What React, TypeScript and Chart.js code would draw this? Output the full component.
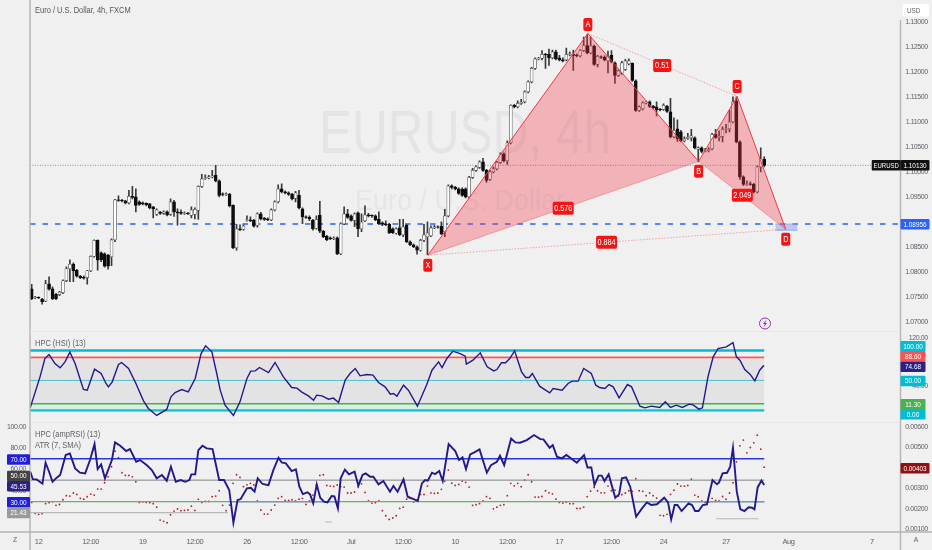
import React, { useEffect, useRef } from "react";
import { Chart, registerables } from "chart.js";

Chart.register(...registerables);

// ---------- data ----------
// Candles, one per 4h bar, in pips above 1.0000
const opens = [
  766,748,749,745,741,776,766,755,754,758, 782,806,815,803,791,789,788,802,831,863,
  838,836,833,830,864,944,943,942,938,951, 950,940,938,937,936,930,915,919,917,920,
  915,940,920,919,917,917,913,915,923,971, 987,988,990,993,982,956,955,955,933,848,
  886,885,903,904,903,893,916,907,906,904, 924,940,966,960,958,955,947,953,926,910,
  909,903,887,913,881,871,868,866,868,836, 896,916,912,903,918,886,902,914,913,912,
  905,898,896,895,886,877,888,874,893,860, 854,850,843,863,870,872,888,890,891,880,
  912,972,969,966,965,966,950,989,1003,1009, 1020,1003,985,1000,1006,1019,1036,1022,1058,1133,
  1130,1137,1140,1160,1180,1207,1226,1227,1235,1235, 1228,1240,1228,1224,1224,1235,1235,1233,1232,1243,
  1253,1238,1252,1215,1230,1229,1222,1233,1218,1193, 1197,1205,1216,1217,1182,1123,1126,1138,1140,1131,
  1130,1125,1125,1131,1120,1070,1086,1080,1062,1067, 1068,1068,1045,1048,1041,1042,1046,1075,1069,1071,
  1085,1086,1100,1142,1060,990,975,976,975,960, 1010,1025,
];
const closes = [
  746,749,748,740,776,765,746,746,759,782, 806,815,802,791,788,787,802,831,863,823,
  824,811,811,864,944,943,942,938,951,949, 933,935,936,934,928,926,924,917,920,914,
  940,920,918,917,918,916,924,925,971,986, 988,990,992,982,953,955,956,932,848,886,
  884,892,904,902,891,916,906,905,904,924, 940,966,960,958,955,946,958,928,910,909,
  906,886,905,881,870,864,866,867,836,896, 916,909,903,916,886,900,914,912,912,904,
  896,895,894,878,878,886,874,890,860,854, 850,843,863,874,878,888,890,889,876,912,
  972,969,966,957,953,950,989,1003,1010,1020, 1003,983,1000,1006,1019,1036,1022,1058,1133,1130,
  1137,1139,1160,1180,1207,1226,1227,1235,1234,1228, 1240,1226,1224,1222,1235,1236,1233,1232,1243,1253,
  1238,1252,1215,1231,1229,1224,1231,1220,1193,1202, 1218,1222,1222,1183,1123,1130,1138,1139,1131,1128,
  1124,1124,1133,1121,1070,1083,1066,1062,1066,1069, 1072,1048,1048,1041,1042,1045,1075,1069,1071,1085,
  1086,1100,1140,1060,990,975,976,975,960,1010, 1026,1013,
];
const highs = [
  775,751,750,747,783,790,770,757,761,784, 810,824,818,805,793,792,803,832,864,864,
  840,838,835,866,945,952,945,943,963,971, 966,942,940,938,937,931,926,921,922,922,
  946,943,926,924,920,919,930,928,972,995, 994,993,1003,1013,984,958,958,957,934,895,
  894,894,912,910,905,918,919,909,908,926, 942,974,976,962,960,957,961,963,928,912,
  912,905,912,941,883,873,870,870,870,898, 930,925,914,918,920,916,932,917,914,914,
  920,900,902,897,888,888,905,905,895,862, 856,852,865,895,900,892,893,892,900,925,
  974,974,971,968,968,968,991,1007,1012,1022, 1027,1005,1003,1010,1021,1038,1038,1062,1134,1135,
  1142,1145,1162,1182,1209,1228,1229,1243,1237,1246, 1244,1244,1233,1228,1248,1240,1244,1236,1245,1270,
  1275,1270,1254,1233,1232,1232,1242,1243,1220,1204, 1221,1225,1226,1218,1184,1132,1140,1141,1142,1133,
  1140,1127,1136,1133,1147,1108,1104,1083,1070,1077, 1085,1070,1050,1050,1047,1048,1077,1085,1082,1090,
  1095,1123,1150,1150,1062,992,982,980,977,1012, 1048,1030,
];
const lows = [
  744,746,746,735,740,763,744,744,752,756, 780,780,780,789,786,785,775,800,829,803,
  820,809,805,812,860,941,940,936,936,946, 920,933,934,932,926,908,913,915,915,912,
  913,911,893,915,915,915,908,906,905,969, 985,986,988,980,950,952,953,930,846,843,
  882,883,901,900,889,889,904,903,902,902, 922,938,958,956,953,944,940,926,896,907,
  902,883,885,878,868,862,864,864,834,834, 894,907,901,890,870,880,900,910,909,902,
  894,892,892,876,876,875,872,870,858,852, 848,835,841,860,834,870,886,887,874,870,
  910,966,964,955,951,948,948,987,1001,1007, 1001,979,983,998,1004,1017,1020,1015,1056,1128,
  1128,1135,1138,1158,1178,1205,1224,1224,1207,1213, 1226,1224,1222,1220,1222,1232,1203,1230,1230,1241,
  1236,1236,1213,1210,1227,1222,1198,1218,1177,1191, 1195,1203,1214,1181,1121,1121,1124,1136,1129,1126,
  1112,1122,1123,1119,1068,1068,1061,1060,1060,1065, 1062,1046,1020,1038,1040,1040,1044,1067,1062,1060,
  1078,1080,1098,1058,985,973,973,973,958,958, 1000,1010,
];

// Harmonic pattern pivots X, A, B, C, D
const pivotBars = [114.1, 160.2, 192.1, 203.2, 217.2];
const pivotPrices = [1.0833, 1.1277, 1.1021, 1.1151, 1.0885];
const priceLevel = 1.1013;
const supportLevel = 1.08956;
const przBars = [214.2, 220.6];
const przPrices = [1.08956, 1.0883];

// HSI line
const hsiBars = [
  -0.4,2.4,3.8,5,6.7,8.2,9.6,11,12.5,14.9,16,18.1,20,21.4,22.1,23.2,25,25.9,27.9,29.8,
  32.2,33.6,36,38.9,40.1,41.3,43.2,45.1,47.1,48.8,50.1,51.9,53.3,54.3,55.7,58.1,60,62,63.1,64.4,
  65.6,68.2,70.1,72.5,74.9,76.4,77.8,79.7,81.2,82.1,83.6,85.5,86.9,88.4,90.3,91.7,93.2,94.6,96.5,98.3,
  99.9,101.8,103.3,104.2,105.2,107.1,108.5,111.1,113.8,115.3,117.2,118.2,119.6,121.3,123.4,124.9,125.2,127.1,129.2,131.2,
  133.1,134,135.3,136.5,137.7,139.1,141.1,142.3,143.3,144.2,146.3,149.2,150.2,152.8,154.5,155.7,157.4,159,161.2,162.5,
  163.6,165.1,166.3,167.5,169.2,171.6,172.8,175.2,176.6,178.5,180.9,182.5,184,185.7,187.4,189.4,190.5,192.2,193.2,194.8,
  196.3,197.7,200.1,202,203,204,205.4,206.9,208.3,209.7,210.7,211,
];
const hsiValues = [
  4.9,56,86.6,93.2,78.2,71,81,97.1,78.2,34.9,33.8,68.8,61.6,44.9,39.3,47.7,76.6,79.9,69.9,47.7,
  16,3.2,-8.4,1.6,22.7,29.9,34.9,31,53.2,94.9,107.7,97.7,61.6,33.8,8.8,-8.4,14.3,53.2,65.5,66,
  71.6,63.2,79.9,56,38.2,37.1,30.5,24.3,17.1,25.5,24.3,18.8,20.5,13.2,50.5,61.6,69.9,57.7,59.9,58.8,
  46.6,39.3,27.1,28.2,23.8,42.1,33.8,7.1,43.2,67.1,81,71.6,86.6,98.8,94.9,90.5,77.1,83.8,96,72.7,
  66,68.2,79.4,79.4,86.6,99.4,64.4,54.9,54.9,61.6,40.5,29.3,36.6,33.8,44.9,48.8,48.8,69.9,61.6,42.1,
  38.2,36.6,43.2,39.3,21,43.2,39.3,7.1,4.3,7.1,4.9,14.3,4.9,8.8,4.9,10.5,9.3,2.1,4.3,56,
  89.4,103.2,106,113.2,89.4,83.8,68.2,60.5,49.3,67.1,73.8,74.68,
];

// ampRSI line
const rsiBars = [
  -0.4,0.3,1.4,3.1,4,5,6,7.2,8.2,9.8,11,12.5,13.9,15.4,16.8,18.1,19,20,21.1,23.1,
  24,25.5,27.2,28.3,30.1,31.2,33.1,34.6,36,37.5,38.9,40.1,41.5,42.9,44.2,45.4,46,47.1,48,49.2,
  50.4,52.1,54,55.4,56.9,58.1,59.3,60.2,62,63.1,64.2,65.1,66.5,68.2,69.6,71.1,72,73.2,74.9,76.1,
  77.1,78.1,79.4,80.2,81.1,82.1,83.1,84.2,85.2,86.4,87.2,88.2,89,90.2,91.4,93,94.1,95.3,96.2,97.5,
  98.4,99.9,101.3,103.2,104.2,105.4,107.1,108.3,110,111.2,112.4,113.3,114.1,115.3,116.2,117.4,118.4,120.1,122,123.1,
  124.1,125.1,126.3,127.5,129,131.1,132.3,134,134.9,136.1,138.1,139.3,140.7,142.6,144.7,146.5,147.4,149.2,150.1,151.3,
  152.7,154,155.6,157,159.1,160.1,161.2,162.1,163.3,164.2,165,166.2,168.1,169.2,170,171.2,172.4,174.1,175.8,177.2,
  178.5,180.1,182.2,183.3,184.2,185.2,186,187.2,189.2,190.2,191.1,192.1,193.3,194.5,196.1,197.4,198,199,200.3,201.2,
  202,203.1,204.1,205.3,206.5,207.5,208.2,209.1,210.2,211,
];
const rsiValues = [
  57.9,51,50.7,46.7,66.3,57.9,48.5,52.3,54.8,73.5,75,61,57,56.3,68.8,83.7,60.4,64.7,51.7,68.8,
  85.3,82.2,77.2,79.1,67.2,68.8,64.1,59.4,51.7,54.8,49.5,62.6,48.5,50.1,48.5,50.1,55.4,55.4,78.1,82.2,
  79.7,79.1,50.1,50.1,40.8,10.2,31.4,32.3,42.3,42.9,39.2,51.7,46.4,45.4,59.4,71,66.6,65.7,58.5,60.1,
  43.9,37,38.6,36.7,28.3,46.1,33.6,29.9,29.2,35.2,34.8,23.6,51.7,59.8,55.4,57.9,44.8,54.8,56.3,53.2,
  53.2,46.1,49.2,39.2,44.5,39.2,50.7,34.5,32.3,30.5,47,50.1,49.5,57,55.7,58.5,49.2,83.7,77.2,68.8,
  71.3,60.4,74.1,76,78.8,57,64.1,67.2,72.8,64.1,89,85.3,85,87.5,92.2,88.4,88.1,80.3,82.8,71.9,
  70.4,73.5,69.7,66.3,73.5,61.9,61.9,45.4,54.2,54.2,49.2,55.4,33.6,36.7,51.7,52.6,43.9,15.8,23.6,29.2,
  26.7,27.4,33.6,29.2,13.3,26.7,26.7,21.1,28.3,26.7,21.1,21.1,26.7,27.4,50.1,46.1,47.9,56.3,56.9,62.6,
  80.3,39.2,23,21.1,24.6,24.2,22.7,43.2,49.5,45.53,
];

// ATR(7) dots, one per bar, in units of 0.00001
const atrDots = [
  231,178,173,176,225,230,234,217,221,244,264,262,277,270,251,247,259,272,267,296,
  296,327,356,405,481,449,376,363,363,356,332,231,234,231,230,225,208,145,139,132,
  171,189,199,191,192,194,213,192,246,231,236,236,259,262,288,217,191,218,324,366,
  353,308,317,324,316,238,194,174,174,194,218,251,259,241,241,244,238,247,251,221,
  238,267,316,363,366,314,311,309,316,308,306,277,277,282,308,322,280,238,228,230,
  238,191,166,148,155,166,202,208,247,251,233,243,270,270,311,278,275,277,295,335,
  389,325,314,319,335,329,306,217,220,225,238,259,251,200,208,217,220,264,324,312,
  324,308,340,366,332,257,257,260,288,278,273,247,231,228,233,225,225,202,202,208,
  259,286,304,288,278,278,311,288,291,262,269,277,288,285,347,288,285,264,277,264,
  252,168,166,173,270,291,321,311,311,314,345,267,259,238,231,234,251,241,239,260,
  247,277,327,429,507,535,473,499,522,559,491,403,
];

// Axis ticks
const priceTicks = [1.07,1.075,1.08,1.085,1.09,1.095,1.1,1.105,1.11,1.115,1.12,1.125,1.13];
const hsiTicks = [120, 40];
const rsiTicks = [100, 80, 60, 40];
const atrTicks = [0.001,0.002,0.003,0.004,0.005,0.006];
const dateTickBars = [2,17,32,47,62,77,92,107,122,137,152,167,182,200,218,242];
const dateTickLabels = ["12","12:00","19","12:00","26","12:00","Jul","12:00","10","12:00","17","12:00","24","27","Aug","7"];

// Indicator levels
const hsiLevels = { top: 100, upper: 88.6, mid: 50, lower: 11.3, bottom: 0 };
const rsiLevels = { upper: 70, mid: 50, lower: 30, floor: 19.6 };
const rsiBlueSpans = [[57.5, 88.3], [173.2, 211]];
const grayStubs = [[84.5, 86.5, 10.8], [197.2, 209.3, 13.9]];

// Pattern labels: text, bar, price
const patternLabels: [string, number, number][] = [
  ["A", 160.2, 1.1295], ["B", 192.1, 1.1001], ["C", 203.2, 1.1171], ["D", 217.2, 1.0865], ["X", 114.1, 1.0813],
  ["0.51", 181.6, 1.1213], ["0.576", 153.1, 1.0927], ["0.884", 165.6, 1.0859], ["2.049", 204.7, 1.0953],
];

// Badges on the price scales: text, colour, centre height
const rightBadges: [string, string, number][] = [
  ["100.00", "#00bcd4", 346], ["88.60", "#ff5252", 356], ["74.68", "#2a2185", 366.5],
  ["50.00", "#00bcd4", 380.7], ["11.30", "#4caf50", 404], ["0.00", "#00bcd4", 414],
  ["0.00403", "#8f1010", 468], ["1.08956", "#2962ff", 224], ["1.10130", "#111111", 165],
];
const leftBadges: [string, string, number][] = [
  ["70.00", "#2020d8", 459.3], ["50.00", "#434343", 475.7], ["45.53", "#2a2185", 486],
  ["30.00", "#2020d8", 502], ["21.43", "#9a9a9a", 512.7],
];

// ---------- helpers ----------
const FONT = '"Liberation Sans", sans-serif';
const TEXT = "#5f6068";
const toPrice = (pips: number) => 1 + pips / 10000;
const RED = "#f23645";
const XMIN = -0.49;
const XMAX = 250.2;

const line = (yAxisID: string, xs: number[], ys: number[], color: string, width: number, extra: any = {}) => ({
  type: "line",
  yAxisID,
  xAxisID: "x",
  data: xs.map((x, i) => ({ x, y: ys[i] })),
  borderColor: color,
  borderWidth: width,
  pointRadius: 0,
  tension: 0,
  fill: false,
  order: 2,
  ...extra,
});
const level = (yAxisID: string, a: number, b: number, v: number, color: string, width: number, extra: any = {}) =>
  line(yAxisID, [a, b], [v, v], color, width, extra);

const fixedTicks = (values: number[]) => (s: any) => {
  s.ticks = values.map((value) => ({ value }));
};
const fixWidth = (w: number) => (s: any) => {
  s.width = w;
  s.paddingTop = s.paddingBottom = s.paddingLeft = s.paddingRight = 0;
};
const yAxis = (position: string, min: number, max: number, values: number[], digits: number, padding: number, width: number, mirror: boolean) => ({
  type: "linear",
  position,
  min,
  max,
  grid: { display: false, drawTicks: false },
  border: { display: false },
  afterBuildTicks: fixedTicks(values),
  afterFit: fixWidth(width),
  ticks: {
    autoSkip: false,
    mirror,
    padding,
    color: TEXT,
    font: { family: FONT, size: 7 },
    callback: (v: number) => Number(v).toFixed(digits),
  },
});

function box(ctx: CanvasRenderingContext2D, x: number, y: number, w: number, h: number, r: number, fill: string) {
  ctx.beginPath();
  ctx.roundRect(x, y, w, h, r);
  ctx.fillStyle = fill;
  ctx.fill();
}
function label(ctx: CanvasRenderingContext2D, s: string, x: number, y: number, color: string, size = 8, align: CanvasTextAlign = "left", squeeze = 0.85) {
  ctx.save();
  (ctx as any).letterSpacing = "0px";
  ctx.translate(x, y);
  ctx.scale(squeeze, 1);
  ctx.font = `${size}px ${FONT}`;
  ctx.fillStyle = color;
  ctx.textAlign = align;
  ctx.textBaseline = "middle";
  ctx.fillText(s, 0, 0);
  ctx.restore();
}

const watermark = {
  id: "watermark",
  beforeDraw(chart: any) {
    // the source's tick text is narrow; tighten it for the scale labels too
    chart.ctx.letterSpacing = "-0.4px";
  },
  beforeDatasetsDraw(chart: any) {
    const ctx = chart.ctx;
    label(ctx, "EURUSD, 4h", 465, 136, "#e4e4e7", 62, "center", 0.8);
    label(ctx, "Euro / U.S. Dollar", 460, 202, "#e6e6e9", 30, "center", 0.9);
  },
};

const overlay = {
  id: "overlay",
  afterDatasetsDraw(chart: any) {
    const ctx: CanvasRenderingContext2D = chart.ctx;
    const { x, yPrice } = chart.scales;
    ctx.save();

    // frame lines
    ctx.strokeStyle = "#b4b4b6";
    ctx.lineWidth = 1.4;
    ctx.beginPath();
    ctx.moveTo(30, 0); ctx.lineTo(30, 550);
    ctx.moveTo(900.5, 20); ctx.lineTo(900.5, 550);
    ctx.moveTo(0, 532); ctx.lineTo(932, 532);
    ctx.stroke();
    ctx.strokeStyle = "#e7e7e7";
    ctx.lineWidth = 1;
    ctx.beginPath();
    ctx.moveTo(30, 331.5); ctx.lineTo(900, 331.5);
    ctx.moveTo(30, 422.5); ctx.lineTo(900, 422.5);
    ctx.stroke();

    // pane titles
    label(ctx, "Euro / U.S. Dollar, 4h, FXCM", 35, 11, "#54555c", 8.5, "left", 0.88);
    label(ctx, "HPC (HSI) (13)", 35, 344, TEXT, 8.5, "left", 0.88);
    label(ctx, "HPC (ampRSI) (13)", 35, 435, TEXT, 8.5, "left", 0.88);
    label(ctx, "ATR (7, SMA)", 35, 446, TEXT, 8.5, "left", 0.88);
    label(ctx, "Z", 15, 540, TEXT, 8, "center");
    label(ctx, "A", 916, 540, TEXT, 8, "center");

    // pattern labels
    for (const [s, bar, price] of patternLabels) {
      const cx = x.getPixelForValue(bar);
      const cy = yPrice.getPixelForValue(price);
      const w = s.length === 1 ? 9 : s.length === 4 ? 18 : 21;
      box(ctx, cx - w / 2, cy - 6.5, w, 13, 2, "#f51414");
      label(ctx, s, cx, cy + 0.5, "#ffffff", 8.5, "center");
    }

    // scale badges
    box(ctx, 902.7, 4, 26.5, 12.5, 2, "#ffffff");
    label(ctx, "USD", 907, 10.5, TEXT, 7.5);
    box(ctx, 871.7, 160, 29, 10.5, 1, "#111111");
    label(ctx, "EURUSD", 886.2, 165.5, "#ffffff", 7.5, "center", 0.8);
    for (const [s, color, y] of rightBadges) {
      const w = s.length >= 7 ? 29 : 25;
      box(ctx, 900.5, y - 5, w, 10.5, 1, color);
      label(ctx, s, 900.5 + w / 2, y + 0.5, "#ffffff", 8, "center", 0.8);
    }
    for (const [s, color, y] of leftBadges) {
      box(ctx, 7, y - 5, 23, 10.5, 1, color);
      label(ctx, s, 18.5, y + 0.5, "#ffffff", 8, "center", 0.8);
    }

    // lightning badge
    ctx.strokeStyle = "#9c27b0";
    ctx.fillStyle = "#9c27b0";
    ctx.lineWidth = 1;
    ctx.beginPath();
    ctx.arc(765, 323.5, 5.5, 0, Math.PI * 2);
    ctx.stroke();
    ctx.beginPath();
    ctx.moveTo(766.5, 319.5); ctx.lineTo(763, 324); ctx.lineTo(764.8, 324);
    ctx.lineTo(763.5, 327.5); ctx.lineTo(767, 323); ctx.lineTo(765.2, 323);
    ctx.closePath();
    ctx.fill();
    ctx.restore();
  },
};

export default function App() {
  const ref = useRef<HTMLCanvasElement>(null);
  useEffect(() => {
    document.body.style.margin = "0";
    const [X, A, B, C, D] = pivotBars.map((b, i) => ({ b, p: pivotPrices[i] }));
    const tri = (pts: { b: number; p: number }[]) => [pts.map((q) => q.b), pts.map((q) => q.p)] as [number[], number[]];
    const fillRed = "rgba(242,54,69,0.33)";

    const wickData = opens.map((_, i) => ({ x: i, y: [toPrice(lows[i]), toPrice(highs[i])] }));
    const bodyData = opens.map((o, i) => ({ x: i, y: [toPrice(o), toPrice(closes[i])] }));
    const isUp = opens.map((o, i) => closes[i] >= o);

    const datasets: any[] = [
      // price levels
      level("yPrice", XMIN, XMAX, priceLevel, "#77787e", 0.8, { borderDash: [1, 1.5], order: 7 }),
      level("yPrice", XMIN, XMAX, supportLevel, "#2962ff", 1.3, { borderDash: [5.5, 7], order: 6 }),
      // candles
      {
        type: "bar", yAxisID: "yPrice", xAxisID: "x", data: wickData, grouped: false, barThickness: 1,
        backgroundColor: "#3a3a3a", borderWidth: 0, order: 5,
      },
      {
        type: "bar", yAxisID: "yPrice", xAxisID: "x", data: bodyData, grouped: false, barThickness: 3,
        backgroundColor: isUp.map((u) => (u ? "#ffffff" : "#0c0c0c")),
        borderColor: isUp.map((u) => (u ? "#555555" : "#0c0c0c")), borderWidth: 0.7, borderSkipped: false, order: 4,
      },
      // harmonic pattern
      line("yPrice", ...tri([X, A, B]), RED, 1, { fill: "+1", backgroundColor: fillRed, order: 1 }),
      line("yPrice", ...tri([X, B]), "rgba(242,54,69,0.55)", 0.7, { order: 1 }),
      line("yPrice", ...tri([B, C, D]), RED, 1, { fill: "+1", backgroundColor: fillRed, order: 1 }),
      line("yPrice", ...tri([B, D]), "rgba(242,54,69,0.55)", 0.7, { order: 1 }),
      line("yPrice", ...tri([A, C]), "rgba(242,54,69,0.6)", 0.7, { borderDash: [1.5, 1.5], order: 1 }),
      line("yPrice", ...tri([X, D]), "rgba(242,54,69,0.6)", 0.7, { borderDash: [1.5, 1.5], order: 1 }),
      // PRZ box
      line("yPrice", przBars, [przPrices[0], przPrices[0]], "#9aa6e0", 0.8, { fill: "+1", backgroundColor: "rgba(80,110,235,0.32)", order: 1 }),
      line("yPrice", przBars, [przPrices[1], przPrices[1]], "#9aa6e0", 0.8, { order: 1 }),
      // HSI pane
      level("yHsi", XMIN, 211, hsiLevels.top, "#00bcd4", 2.4, { fill: "+1", backgroundColor: "rgba(255,255,255,0.1)" }),
      level("yHsi", XMIN, 211, hsiLevels.upper, "#ff5252", 1.8, { fill: "+1", backgroundColor: "rgba(120,120,125,0.1)" }),
      level("yHsi", XMIN, 211, hsiLevels.lower, "#4caf50", 1.5, { fill: "+1", backgroundColor: "rgba(120,240,180,0.18)" }),
      level("yHsi", XMIN, 211, hsiLevels.bottom, "#00bcd4", 2.4),
      level("yHsi", XMIN, 211, hsiLevels.mid, "#3ec3d6", 0.9),
      line("yHsi", hsiBars, hsiValues, "#22198a", 1.4, { order: 1 }),
      // RSI pane
      level("yRsi", XMIN, 211, rsiLevels.upper, "#2a35e0", 1.5),
      level("yRsi", XMIN, 211, rsiLevels.mid, "#808084", 1),
      level("yRsi", XMIN, 211, rsiLevels.lower, "#62b565", 1.2),
      ...rsiBlueSpans.map(([a, b]) => level("yRsi", a, b, rsiLevels.lower, "#2a35e0", 1.2)),
      level("yRsi", XMIN, 56.5, rsiLevels.floor, "#b8b8ba", 1.1),
      ...grayStubs.map(([a, b, v]) => level("yRsi", a, b, v, "#b8b8ba", 1.1)),
      {
        type: "line", yAxisID: "yAtr", xAxisID: "x", showLine: false, order: 3,
        data: atrDots.map((v, i) => ({ x: i, y: v / 100000 })),
        pointRadius: 0.9, pointBorderWidth: 0, pointBackgroundColor: "#b0202a",
      },
      line("yRsi", rsiBars, rsiValues, "#22198a", 1.9, { order: 1 }),
    ];

    const chart = new Chart(ref.current!, {
      type: "bar",
      data: { datasets },
      plugins: [watermark, overlay],
      options: {
        responsive: false,
        animation: false,
        layout: { padding: { right: 31.7 } },
        plugins: { legend: { display: false }, tooltip: { enabled: false }, title: { display: false } },
        scales: {
          x: {
            type: "linear",
            min: XMIN,
            max: XMAX,
            offset: false,
            grid: { display: false, drawTicks: false, offset: false },
            border: { display: false },
            afterBuildTicks: fixedTicks(dateTickBars),
            afterFit: (s: any) => {
              s.height = 18;
              s.paddingLeft = s.paddingRight = s.paddingTop = s.paddingBottom = 0;
            },
            ticks: {
              autoSkip: false,
              maxRotation: 0,
              padding: 5,
              color: TEXT,
              font: { family: FONT, size: 7.5 },
              callback: (v: number) => dateTickLabels[dateTickBars.indexOf(v)] ?? "",
            },
          },
          yPrice: yAxis("right", 1.0279, 1.1336, priceTicks, 5, 27.5, 0, true),
          yHsi: yAxis("right", -202.83, 678, hsiTicks, 2, 27.5, 0, true),
          yAtr: yAxis("right", 0.000868, 0.026624, atrTicks, 5, 27.5, 0, true),
          yRsi: yAxis("left", 1.5, 495.4, rsiTicks, 2, 4, 30, false),
        },
      } as any,
    } as any);
    return () => chart.destroy();
  }, []);
  return (
    <div style={{ position: "fixed", inset: 0, background: "#f0f0f0" }}>
      <canvas ref={ref} width={932} height={550} style={{ display: "block" }} />
    </div>
  );
}
